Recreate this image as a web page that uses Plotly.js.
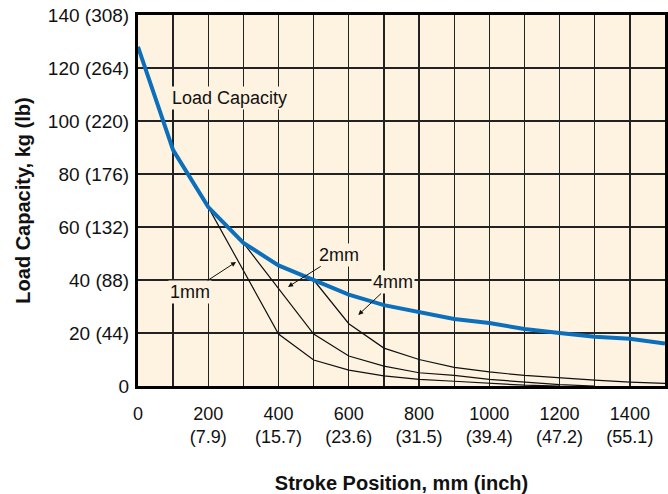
<!DOCTYPE html>
<html>
<head>
<meta charset="utf-8">
<script src="https://cdn.plot.ly/plotly-3.0.1.min.js"></script>
<style>html,body{margin:0;padding:0;background:#fff;}#chart{width:668px;height:494px;}</style>
</head>
<body>
<div id="chart"></div>
<script>
// Stroke position (mm)
const strokeX = [0, 100, 200, 300, 400, 500, 600, 700, 800, 900, 1000, 1100, 1200, 1300, 1400, 1500];
// Load capacity (kg)
const loadCapacity = [128, 89, 67.5, 54, 45.5, 40, 34.5, 30.5, 28, 25.3, 23.8, 21.5, 20, 18.6, 17.8, 16];
// Deflection curves
const x1mm = [200, 400, 500, 600, 700, 800, 900, 1000, 1100, 1200];
const y1mm = [67.5, 19.6, 9.8, 6, 3.8, 2.5, 1.8, 1, 0.3, 0];
const x2mm = [300, 500, 600, 700, 800, 900, 1000, 1100, 1200, 1300];
const y2mm = [54, 19.6, 11.3, 7.5, 5, 4, 2.5, 1.5, 0.5, 0];
const x4mm = [500, 600, 700, 800, 900, 1000, 1100, 1200, 1300, 1400, 1500];
const y4mm = [40, 23.5, 14.3, 10, 7, 5.3, 4, 3, 2.2, 1.5, 1];

const xTickVals = [0, 200, 400, 600, 800, 1000, 1200, 1400];
const xTickText = ['0', '200<br>(7.9)', '400<br>(15.7)', '600<br>(23.6)', '800<br>(31.5)', '1000<br>(39.4)', '1200<br>(47.2)', '1400<br>(55.1)'];
const yTickVals = [0, 20, 40, 60, 80, 100, 120, 140];
const yTickText = ['0', '20 (44)', '40 (88)', '60 (132)', '80 (176)', '100 (220)', '120 (264)', '140 (308)'];

const font = 'Liberation Sans, Arial, Helvetica, sans-serif';
const bg = '#fef3e0';
const gridColor = '#222';

const thin = {color: '#111', width: 1.2};
const traces = [
  {x: x1mm, y: y1mm, mode: 'lines', line: thin, name: '1mm', hoverinfo: 'skip'},
  {x: x2mm, y: y2mm, mode: 'lines', line: thin, name: '2mm', hoverinfo: 'skip'},
  {x: x4mm, y: y4mm, mode: 'lines', line: thin, name: '4mm', hoverinfo: 'skip'},
  {x: strokeX, y: loadCapacity, mode: 'lines', line: {color: '#0b6fbc', width: 4}, name: 'Load Capacity'}
];

const annFont = {family: font, size: 18, color: '#111'};
const layout = {
  width: 668, height: 494,
  margin: {l: 138, r: 3, t: 15, b: 108},
  paper_bgcolor: '#ffffff',
  plot_bgcolor: bg,
  showlegend: false,
  font: {family: font, size: 18, color: '#111'},
  xaxis: {
    range: [0, 1500],
    tickvals: xTickVals, ticktext: xTickText,
    showgrid: true, gridcolor: gridColor, gridwidth: 1.4,
    minor: {dtick: 100, tick0: 0, showgrid: true, gridcolor: gridColor, gridwidth: 1.4},
    zeroline: false,
    showline: true, mirror: true, linecolor: '#000', linewidth: 3,
    ticks: '', ticklabelstandoff: 9,
    tickfont: {family: font, size: 18, color: '#111'},
    title: {text: '<b>Stroke Position, mm (inch)</b>', font: {family: font, size: 20, color: '#111'}, standoff: 30}
  },
  yaxis: {
    range: [0, 140],
    tickvals: yTickVals, ticktext: yTickText,
    showgrid: true, gridcolor: gridColor, gridwidth: 1.4,
    zeroline: false,
    showline: true, mirror: true, linecolor: '#000', linewidth: 3,
    ticks: '', ticklabelstandoff: 2,
    tickfont: {family: font, size: 19, color: '#111'},
    title: {text: '<b>Load Capacity, kg (lb)</b>', font: {family: font, size: 20, color: '#111'}, standoff: 12}
  },
  annotations: [
    {x: 90, y: 108.7, text: 'Load Capacity', showarrow: false, xanchor: 'left', yanchor: 'middle', font: annFont, bgcolor: bg, borderpad: 1},
    {x: 279, y: 46.8, text: '1mm', showarrow: true, arrowhead: 2, arrowsize: 1, arrowwidth: 1, arrowcolor: '#111', ax: -46, ay: 30, font: annFont, bgcolor: bg, borderpad: 1},
    {x: 427, y: 37.4, text: '2mm', showarrow: true, arrowhead: 2, arrowsize: 1, arrowwidth: 1, arrowcolor: '#111', ax: 51, ay: -32, font: annFont, bgcolor: bg, borderpad: 1},
    {x: 627, y: 26.8, text: '4mm', showarrow: true, arrowhead: 2, arrowsize: 1, arrowwidth: 1, arrowcolor: '#111', ax: 35, ay: -33, font: annFont, bgcolor: bg, borderpad: 1}
  ]
};

Plotly.newPlot('chart', traces, layout, {displayModeBar: false, staticPlot: true});
</script>
</body>
</html>
